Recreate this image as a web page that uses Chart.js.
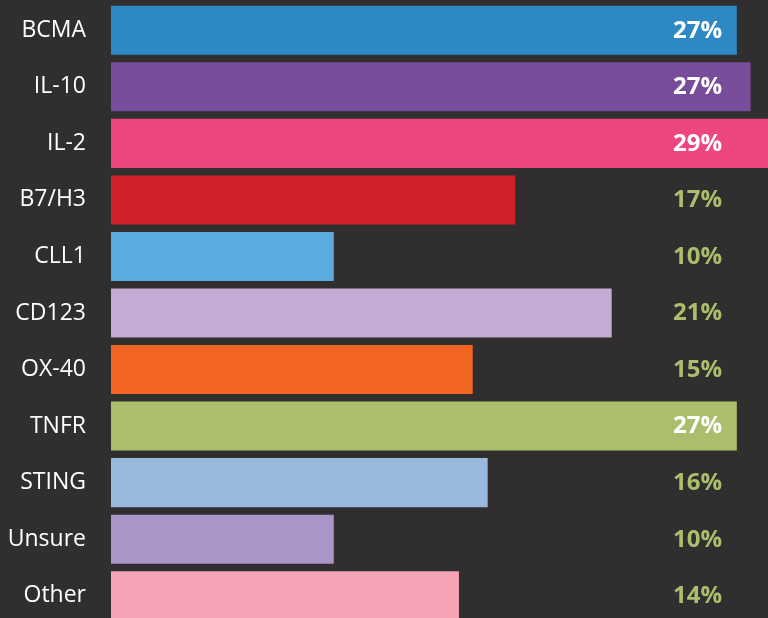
<!DOCTYPE html>
<html>
<head>
<meta charset="utf-8">
<script src="https://cdn.jsdelivr.net/npm/chart.js@4.4.1/dist/chart.umd.min.js"></script>
<style>
  html, body { margin: 0; padding: 0; background: #302e2f; overflow: hidden; }
  canvas { display: block; }
</style>
</head>
<body>
<canvas id="chart" width="800" height="624"></canvas>
<script>
// Datos
const categories = ['BCMA', 'IL-10', 'IL-2', 'B7/H3', 'CLL1', 'CD123', 'OX-40', 'TNFR', 'STING', 'Unsure', 'Other'];
const values = [27.25, 27.85, 29.6, 17.6, 9.7, 21.8, 15.75, 27.25, 16.4, 9.7, 15.15];
const valueLabels = ['27%', '27%', '29%', '17%', '10%', '21%', '15%', '27%', '16%', '10%', '14%'];
const barColors = ['#2e88c4', '#774c9b', '#ee4680', '#d2202b', '#5aabe0', '#c3acd3', '#f26522', '#abbe6c', '#98b8dd', '#ab95c8', '#f5a3b5'];

const labelGreen = '#abbe6c';

// Etiquetas de porcentaje a la derecha
const percentLabels = {
    id: 'percentLabels',
    afterDatasetsDraw(chart) {
        const ctx = chart.ctx;
        const meta = chart.getDatasetMeta(0);
        ctx.save();
        ctx.font = 'bold 24px "Open Sans"';
        ctx.textAlign = 'right';
        ctx.textBaseline = 'middle';
        meta.data.forEach((bar, i) => {
            const textW = ctx.measureText(valueLabels[i]).width;
            const right = 722;
            ctx.fillStyle = bar.x > right - textW ? '#ffffff' : labelGreen;
            ctx.fillText(valueLabels[i], right, bar.y + 0.5);
        });
        ctx.restore();
    }
};

new Chart(document.getElementById('chart'), {
    type: 'bar',
    data: {
        labels: categories,
        datasets: [{
            data: values,
            backgroundColor: barColors,
            borderWidth: 0,
            barPercentage: 0.867,
            categoryPercentage: 1
        }]
    },
    options: {
        indexAxis: 'y',
        responsive: false,
        animation: false,
        layout: { padding: { top: 2, left: 0, right: 0, bottom: 0 } },
        plugins: {
            legend: { display: false },
            tooltip: { enabled: false }
        },
        scales: {
            x: {
                display: false,
                min: 0,
                max: 30
            },
            y: {
                grid: { display: false, drawTicks: false },
                border: { display: false },
                afterFit: s => {
                    s.width = 111;
                    s.paddingTop = 0;
                    s.paddingBottom = 0;
                },
                ticks: {
                    color: '#ffffff',
                    padding: 25,
                    font: { family: '"Open Sans"', size: 23 }
                }
            }
        }
    },
    plugins: [percentLabels]
});
</script>
</body>
</html>
